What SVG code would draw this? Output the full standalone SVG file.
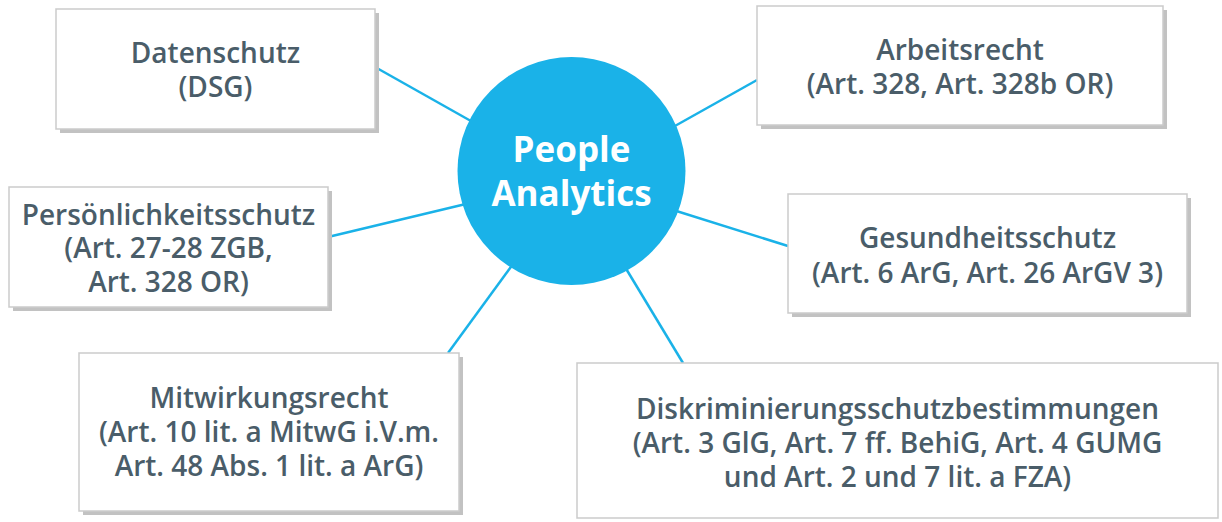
<svg xmlns="http://www.w3.org/2000/svg" width="1222" height="522" viewBox="0 0 1222 522">
<style>
.shadow{fill:#c2c2c2}
.box{fill:#ffffff;stroke:#cbcbcb;stroke-width:1.5}
.lbl{font-family:"Open Sans","Noto Sans",sans-serif;font-size:28px;font-weight:600;fill:#4a5d69;text-anchor:middle}
.conn{stroke:#1ab2e8;stroke-width:2.5;fill:none}
.hub{fill:#1ab2e8}
.hubt{font-family:"Open Sans","Noto Sans",sans-serif;font-size:35px;font-weight:bold;fill:#ffffff;text-anchor:middle}
</style>
<rect width="1222" height="522" fill="#ffffff"/>
<g id="connectors">
<line class="conn" x1="375" y1="67" x2="478" y2="125"/>
<line class="conn" x1="757" y1="80" x2="666" y2="131"/>
<line class="conn" x1="328" y1="237" x2="470" y2="203"/>
<line class="conn" x1="448" y1="353" x2="516" y2="260"/>
<line class="conn" x1="670" y1="209" x2="788" y2="246"/>
<line class="conn" x1="622" y1="262" x2="683" y2="363"/>
</g>
<g id="hub">
<circle class="hub" cx="571.5" cy="171" r="114"/>
<text class="hubt" x="571.5" y="162">People</text>
<text class="hubt" x="571.5" y="206">Analytics</text>
</g>
<g id="datenschutz">
<rect class="shadow" x="60" y="13" width="319" height="120"/>
<rect class="box" x="56" y="9" width="319" height="120"/>
<text class="lbl" x="215.5" y="63">Datenschutz</text>
<text class="lbl" x="215.5" y="97">(DSG)</text>
</g>
<g id="persoenlichkeitsschutz">
<rect class="shadow" x="13" y="191" width="319" height="120"/>
<rect class="box" x="9" y="187" width="319" height="120"/>
<text class="lbl" x="168.5" y="225">Persönlichkeitsschutz</text>
<text class="lbl" x="168.5" y="258">(Art. 27-28 ZGB,</text>
<text class="lbl" x="168.5" y="292">Art. 328 OR)</text>
</g>
<g id="mitwirkungsrecht">
<rect class="shadow" x="83" y="357" width="380" height="158"/>
<rect class="box" x="79" y="353" width="380" height="158"/>
<text class="lbl" x="269" y="408">Mitwirkungsrecht</text>
<text class="lbl" x="269" y="442">(Art. 10 lit. a MitwG i.V.m.</text>
<text class="lbl" x="269" y="476">Art. 48 Abs. 1 lit. a ArG)</text>
</g>
<g id="arbeitsrecht">
<rect class="shadow" x="761" y="10" width="406" height="119"/>
<rect class="box" x="757" y="6" width="406" height="119"/>
<text class="lbl" x="960" y="60">Arbeitsrecht</text>
<text class="lbl" x="960" y="94">(Art. 328, Art. 328b OR)</text>
</g>
<g id="gesundheitsschutz">
<rect class="shadow" x="792" y="198" width="399" height="119"/>
<rect class="box" x="788" y="194" width="399" height="119"/>
<text class="lbl" x="987.5" y="248">Gesundheitsschutz</text>
<text class="lbl" x="987.5" y="283">(Art. 6 ArG, Art. 26 ArGV 3)</text>
</g>
<g id="diskriminierung">
<rect class="box" x="577" y="363" width="641" height="155"/>
<text class="lbl" x="897.5" y="419">Diskriminierungsschutzbestimmungen</text>
<text class="lbl" x="897.5" y="453">(Art. 3 GlG, Art. 7 ff. BehiG, Art. 4 GUMG</text>
<text class="lbl" x="897.5" y="487">und Art. 2 und 7 lit. a FZA)</text>
</g>
</svg>
